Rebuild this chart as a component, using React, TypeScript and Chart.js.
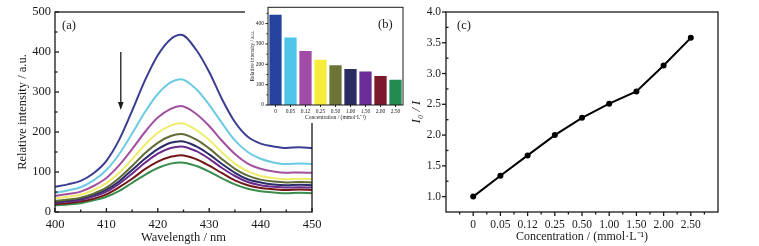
import React, { useEffect, useRef } from "react";
import { Chart, registerables } from "chart.js";
Chart.register(...registerables);

// ---------- data ----------
const wavelengths = [400, 402.5, 405, 407.5, 410, 412.5, 415, 417.5, 420, 422.5, 424.5, 427.5, 430, 432.5, 435, 437.5, 440, 442.5, 445, 447.5, 450];
const concLabels = ["0", "0.05", "0.12", "0.25", "0.50", "1.00", "1.50", "2.00", "2.50"];

const spec000 = [63, 69, 78, 97, 128, 181, 253, 329, 392, 432, 443, 405, 350, 282, 225, 188, 171, 164, 160, 162, 160];
const spec005 = [48, 54, 62, 79, 105, 145, 196, 250, 295, 324, 332, 307, 268, 222, 179, 150, 133, 124, 120, 121, 120];
const spec012 = [40, 45, 51, 65, 85, 117, 157, 200, 236, 258, 265, 245, 215, 178, 145, 121, 108, 101, 98, 99, 98];
const spec025 = [34, 38, 43, 55, 72, 98, 132, 168, 198, 216, 222, 205, 180, 149, 121, 102, 90, 85, 82, 83, 82];
const spec050 = [28, 31, 36, 46, 61, 85, 115, 147, 173, 190, 195, 181, 159, 132, 108, 91, 81, 76, 74, 75, 74];
const spec100 = [26, 29, 34, 43, 56, 77, 105, 133, 157, 173, 177, 164, 144, 120, 98, 82, 74, 69, 67, 68, 67];
const spec150 = [23, 26, 30, 39, 51, 71, 96, 123, 146, 160, 164, 152, 133, 110, 90, 75, 67, 63, 61, 62, 61];
const spec200 = [20, 22, 26, 33, 44, 62, 83, 107, 126, 138, 142, 132, 116, 97, 79, 67, 60, 57, 55, 56, 55];
const spec250 = [17, 19, 22, 29, 38, 53, 73, 93, 110, 121, 124, 115, 101, 84, 69, 58, 52, 49, 47, 48, 47];
const spectra = [spec000, spec005, spec012, spec025, spec050, spec100, spec150, spec200, spec250];

const peakIntensity = [443, 332, 265, 222, 195, 177, 164, 142, 124];
const ratioI0I = [1.0, 1.34, 1.67, 2.0, 2.28, 2.51, 2.71, 3.13, 3.58];

const lineColors = ["#3b3d92", "#6ccbe2", "#a2509f", "#eeec6a", "#5f6a35", "#2b2d6b", "#6b2b8c", "#731616", "#3a8c4c"];
const barColors = ["#2444a0", "#4ec4e8", "#a04ca8", "#f6ec3c", "#6e7436", "#2a2c62", "#6a2c96", "#7c1a2c", "#218a4e"];

const xTicksA = [400, 410, 420, 430, 440, 450];
const xMinorA = [405, 415, 425, 435, 445];
const yTicksA = [0, 100, 200, 300, 400, 500];
const yMinorA = [50, 150, 250, 350, 450];

const yTicksB = [0, 100, 200, 300, 400];
const yMinorB = [50, 150, 250, 350, 450];

const xTicksC = [0, 1, 2, 3, 4, 5, 6, 7, 8];
const xMinorC = [-0.5, 0.5, 1.5, 2.5, 3.5, 4.5, 5.5, 6.5, 7.5, 8.5];
const yTicksC = [1.0, 1.5, 2.0, 2.5, 3.0, 3.5, 4.0];
const yMinorC = [1.25, 1.75, 2.25, 2.75, 3.25, 3.75];

// ---------- helpers ----------
const SERIF = "'Liberation Serif', 'Times New Roman', serif";
const INK = "#1a1a1a";
Chart.defaults.font.family = SERIF;
Chart.defaults.color = INK;

type TickDef = { id: string; major: number[]; minor: number[]; majorLen: number; minorLen: number; dirMajor: number; dirMinor: number };

function decor(cfg: { ticks: TickDef[]; bg?: string; extra?: (c: any) => void; lw?: number }) {
  return {
    id: "decor",
    beforeDraw(chart: any) {
      if (cfg.bg) {
        const ctx = chart.ctx;
        ctx.save();
        ctx.fillStyle = cfg.bg;
        ctx.fillRect(0, 0, chart.width, chart.height);
        ctx.restore();
      }
    },
    afterDatasetsDraw(chart: any) {
      const ctx = chart.ctx;
      const ca = chart.chartArea;
      ctx.save();
      ctx.strokeStyle = INK;
      ctx.lineWidth = cfg.lw ?? 1.3;
      ctx.strokeRect(ca.left, ca.top, ca.right - ca.left, ca.bottom - ca.top);
      for (const t of cfg.ticks) {
        const sc = chart.scales[t.id];
        const draw = (vals: number[], len: number, dir: number) => {
          for (const v of vals) {
            const p = sc.getPixelForValue(v);
            ctx.beginPath();
            if (t.id === "x") {
              ctx.moveTo(p, ca.bottom);
              ctx.lineTo(p, ca.bottom + len * dir);
            } else {
              ctx.moveTo(ca.left, p);
              ctx.lineTo(ca.left - len * dir, p);
            }
            ctx.stroke();
          }
        };
        draw(t.major, t.majorLen, t.dirMajor);
        draw(t.minor, t.minorLen, t.dirMinor);
      }
      if (cfg.extra) cfg.extra(chart);
      ctx.restore();
    },
  };
}

function setTicks(vals: number[]) {
  return (scale: any) => {
    scale.ticks = vals.map((v) => ({ value: v }));
  };
}

// ---------- panel (a) ----------
function makeA(canvas: HTMLCanvasElement) {
  return new Chart(canvas, {
    type: "line",
    data: {
      datasets: spectra.map((s, i) => ({
        label: concLabels[i],
        data: s.map((v, k) => ({ x: wavelengths[k], y: v })),
        borderColor: lineColors[i],
        borderWidth: 2,
        pointRadius: 0,
        cubicInterpolationMode: "monotone" as const,
        fill: false,
      })),
    },
    options: {
      responsive: false,
      devicePixelRatio: 1,
      animation: false,
      layout: { padding: { left: 0, top: 12, right: 18, bottom: 0 } },
      plugins: { legend: { display: false }, tooltip: { enabled: false } },
      scales: {
        x: {
          type: "linear",
          min: 400,
          max: 450,
          grid: { display: false, drawTicks: false },
          border: { display: false },
          afterBuildTicks: setTicks(xTicksA),
          afterFit: (s: any) => { s.height = 34; },
          ticks: { font: { size: 12.5 }, padding: 5, callback: (v: any) => String(v) },
          title: { display: true, text: "Wavelength / nm", font: { size: 12.5 }, padding: { top: 0, bottom: 1 } },
        },
        y: {
          min: 0,
          max: 500,
          grid: { display: false, drawTicks: false },
          border: { display: false },
          afterBuildTicks: setTicks(yTicksA),
          afterFit: (s: any) => { s.width = 55; },
          ticks: { font: { size: 12.5 }, padding: 4, callback: (v: any) => String(v) },
          title: { display: true, text: "Relative intensity / a.u.", font: { size: 12.5 }, padding: { top: 15, bottom: 0 } },
        },
      },
    },
    plugins: [
      decor({
        ticks: [
          { id: "x", major: xTicksA, minor: xMinorA, majorLen: 4, minorLen: 2.5, dirMajor: -1, dirMinor: -1 },
          { id: "y", major: yTicksA, minor: yMinorA, majorLen: 4, minorLen: 2.5, dirMajor: -1, dirMinor: -1 },
        ],
        extra: (chart: any) => {
          const ctx = chart.ctx;
          const ca = chart.chartArea;
          const x = chart.scales.x.getPixelForValue(412.8);
          const y1 = chart.scales.y.getPixelForValue(400);
          const y2 = chart.scales.y.getPixelForValue(255);
          ctx.strokeStyle = INK;
          ctx.fillStyle = INK;
          ctx.lineWidth = 1.3;
          ctx.beginPath();
          ctx.moveTo(x, y1);
          ctx.lineTo(x, y2 - 6);
          ctx.stroke();
          ctx.beginPath();
          ctx.moveTo(x - 2.8, y2 - 8);
          ctx.lineTo(x + 2.8, y2 - 8);
          ctx.lineTo(x, y2);
          ctx.closePath();
          ctx.fill();
          ctx.font = `12.5px ${SERIF}`;
          ctx.textBaseline = "middle";
          ctx.textAlign = "left";
          ctx.fillText("(a)", ca.left + 7, ca.top + 14);
        },
      }),
    ],
  });
}

// ---------- panel (b) inset ----------
function makeB(canvas: HTMLCanvasElement) {
  return new Chart(canvas, {
    type: "bar",
    data: {
      labels: concLabels,
      datasets: [
        {
          data: peakIntensity,
          backgroundColor: barColors,
          borderWidth: 0,
          barPercentage: 0.86,
          categoryPercentage: 0.95,
        },
      ],
    },
    options: {
      responsive: false,
      devicePixelRatio: 1,
      animation: false,
      layout: { padding: { left: 0, top: 6, right: 4, bottom: 0 } },
      plugins: { legend: { display: false }, tooltip: { enabled: false } },
      scales: {
        x: {
          grid: { display: false, drawTicks: false },
          border: { display: false },
          afterFit: (s: any) => { s.height = 18; },
          ticks: { font: { size: 5.5 }, padding: 3, autoSkip: false, maxRotation: 0 },
          title: { display: true, text: "Concentration / (mmol·L⁻¹)", font: { size: 5.5 }, padding: { top: 0, bottom: 2.5 } },
        },
        y: {
          min: 0,
          max: 480,
          grid: { display: false, drawTicks: false },
          border: { display: false },
          afterBuildTicks: setTicks(yTicksB),
          afterFit: (s: any) => { s.width = 23; },
          ticks: { font: { size: 5.5 }, padding: 4, callback: (v: any) => String(v) },
          title: { display: true, text: "Relative intensity / a.u.", font: { size: 5.5 }, padding: { top: 4.5, bottom: 0 } },
        },
      },
    },
    plugins: [
      decor({
        bg: "#ffffff",
        lw: 1,
        ticks: [
          { id: "x", major: [0, 1, 2, 3, 4, 5, 6, 7, 8], minor: [], majorLen: 2, minorLen: 0, dirMajor: 1, dirMinor: 1 },
          { id: "y", major: yTicksB, minor: yMinorB, majorLen: 2.5, minorLen: 1.5, dirMajor: 1, dirMinor: 1 },
        ],
        extra: (chart: any) => {
          const ctx = chart.ctx;
          ctx.fillStyle = INK;
          ctx.font = `12.5px ${SERIF}`;
          ctx.textBaseline = "middle";
          ctx.textAlign = "left";
          ctx.fillText("(b)", 133, 25);
        },
      }),
    ],
  });
}

// ---------- panel (c) ----------
function makeC(canvas: HTMLCanvasElement) {
  return new Chart(canvas, {
    type: "line",
    data: {
      datasets: [
        {
          data: ratioI0I.map((v, i) => ({ x: i, y: v })),
          borderColor: "#000",
          backgroundColor: "#000",
          borderWidth: 2,
          pointRadius: 3,
          pointBorderWidth: 0,
          tension: 0,
        },
      ],
    },
    options: {
      responsive: false,
      devicePixelRatio: 1,
      animation: false,
      layout: { padding: { left: 0, top: 12, right: 41, bottom: 0 } },
      plugins: { legend: { display: false }, tooltip: { enabled: false } },
      scales: {
        x: {
          type: "linear",
          min: -1,
          max: 9,
          grid: { display: false, drawTicks: false },
          border: { display: false },
          afterBuildTicks: setTicks(xTicksC),
          afterFit: (s: any) => { s.height = 34; },
          ticks: { font: { size: 11.5 }, padding: 6, callback: (v: any) => concLabels[Math.round(v)] ?? "" },
          title: { display: true, text: "Concentration / (mmol·L⁻¹)", font: { size: 12 }, padding: { top: 0, bottom: 2 } },
        },
        y: {
          min: 0.75,
          max: 4.0,
          grid: { display: false, drawTicks: false },
          border: { display: false },
          afterBuildTicks: setTicks(yTicksC),
          afterFit: (s: any) => { s.width = 66; },
          ticks: { font: { size: 11.5 }, padding: 5, callback: (v: any) => Number(v).toFixed(1) },
          title: { display: true, text: "I₀ / I", font: { size: 12.5, style: "italic" }, padding: { top: 29, bottom: 0 } },
        },
      },
    },
    plugins: [
      decor({
        ticks: [
          { id: "x", major: xTicksC, minor: xMinorC, majorLen: 4, minorLen: 2.5, dirMajor: 1, dirMinor: 1 },
          { id: "y", major: yTicksC, minor: yMinorC, majorLen: 4, minorLen: 2.5, dirMajor: 1, dirMinor: -1 },
        ],
        extra: (chart: any) => {
          const ctx = chart.ctx;
          const ca = chart.chartArea;
          ctx.fillStyle = INK;
          ctx.font = `12.5px ${SERIF}`;
          ctx.textBaseline = "middle";
          ctx.textAlign = "left";
          ctx.fillText("(c)", ca.left + 11, ca.top + 14);
        },
      }),
    ],
  });
}

export default function App() {
  const aRef = useRef<HTMLCanvasElement>(null);
  const bRef = useRef<HTMLCanvasElement>(null);
  const cRef = useRef<HTMLCanvasElement>(null);
  useEffect(() => {
    document.body.style.margin = "0";
    const charts = [makeA(aRef.current!), makeC(cRef.current!), makeB(bRef.current!)];
    return () => charts.forEach((c) => c.destroy());
  }, []);
  const abs = (l: number, w: number, h: number) => ({ position: "absolute" as const, left: l, top: 0, width: w, height: h });
  return (
    <div style={{ position: "relative", width: 759, height: 246, background: "#fff", overflow: "hidden" }}>
      <canvas ref={aRef} width={330} height={246} style={abs(0, 330, 246)} />
      <canvas ref={cRef} width={379} height={246} style={abs(380, 379, 246)} />
      <canvas ref={bRef} width={162} height={123} style={abs(245, 162, 123)} />
    </div>
  );
}
